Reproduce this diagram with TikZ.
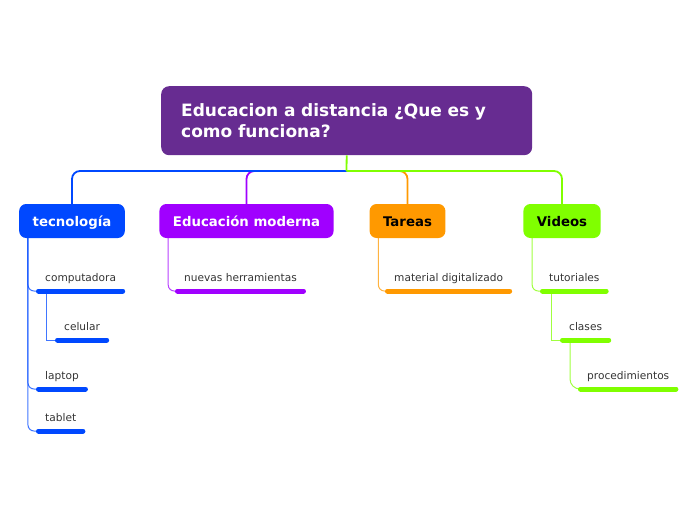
\documentclass[tikz,border=0pt]{standalone}
\usepackage{fontspec}
\setmainfont{DejaVu Sans}
\usetikzlibrary{positioning}
\definecolor{rootpurple}{RGB}{103,44,145}
\definecolor{topicblue}{RGB}{0,72,255}
\definecolor{topicviolet}{RGB}{160,0,255}
\definecolor{topicorange}{RGB}{255,153,0}
\definecolor{topicgreen}{RGB}{128,255,0}
\tikzset{topic/.style={rounded corners=7pt,minimum height=34pt,inner xsep=13.5pt,text height=11.5pt,text depth=.5pt,font=\fontsize{13.3}{15}\selectfont\bfseries},
  sub/.style={anchor=south west,inner xsep=6.5pt,inner ysep=0pt,text height=8pt,text depth=9pt,font=\fontsize{10.6}{12}\selectfont,text=black!80},
  bar/.style={line width=5pt,line cap=round},
  branch/.style={line width=1.8pt,rounded corners=8pt},
  twig/.style={line width=1pt,opacity=.75}
}

\begin{document}
\begin{tikzpicture}[x=1pt,y=-1pt]
  \useasboundingbox (0,0) rectangle (696,520);

  % Central topic
  \node[fill=rootpurple,text=white,rounded corners=8pt,anchor=north west,text width=331pt,inner xsep=20pt,minimum height=69pt,align=left,font=\fontsize{17}{21}\selectfont\bfseries] (root) at (161,86) {Educacion a distancia ¿Que es y\\como funciona?};
  \coordinate (hub) at (346.5,171);

  % Main topics
  \node[topic,fill=topicblue,text=white] (tec) at (72,221) {tecnología};
  \node[topic,fill=topicviolet,text=white] (edu) at (246.5,221) {Educación moderna};
  \node[topic,fill=topicorange,text=black] (tar) at (407.5,221) {Tareas};
  \node[topic,fill=topicgreen,text=black] (vid) at (562,221) {Videos};

  % Subtopics
  \node[sub] (comp) at (38.5,291) {computadora};
  \node[sub] (cel) at (57.5,340) {celular};
  \node[sub] (lap) at (38.5,389) {laptop};
  \node[sub] (tab) at (38.5,431) {tablet};
  \node[sub] (herr) at (177.5,291) {nuevas herramientas};
  \node[sub] (mat) at (387.5,291) {material digitalizado};
  \node[sub] (tut) at (542.5,291) {tutoriales};
  \node[sub] (cla) at (562.5,340) {clases};
  \node[sub] (proc) at (580.5,389) {procedimientos};

  % Root to main topics
  \draw[branch,draw=topicviolet] (hub) -| (edu.north);
  \draw[branch,draw=topicorange] (hub) -| (tar.north);
  \draw[branch,draw=topicblue] (hub) -| (tec.north);
  \draw[branch,draw=topicgreen] (hub) -| (vid.north);
  \draw[line width=1.8pt,draw=topicgreen] (root.south) -- (hub);

  % Main topics to subtopics
  \draw[twig,draw=topicblue,rounded corners=6pt] ([xshift=9pt]tec.south west) |- (comp.south west);
  \draw[twig,draw=topicblue,rounded corners=6pt] ([xshift=9pt]tec.south west) |- (lap.south west);
  \draw[twig,draw=topicblue,rounded corners=6pt] ([xshift=9pt]tec.south west) |- (tab.south west);
  \draw[twig,draw=topicblue] ([xshift=7.5pt]comp.south west) |- (cel.south west);
  \draw[twig,draw=topicviolet,rounded corners=6pt] ([xshift=9pt]edu.south west) |- (herr.south west);
  \draw[twig,draw=topicorange,rounded corners=6pt] ([xshift=9pt]tar.south west) |- (mat.south west);
  \draw[twig,draw=topicgreen,rounded corners=6pt] ([xshift=9pt]vid.south west) |- (tut.south west);
  \draw[twig,draw=topicgreen] ([xshift=8.5pt]tut.south west) |- (cla.south west);
  \draw[twig,draw=topicgreen,rounded corners=10pt] ([xshift=7.5pt]cla.south west) |- (proc.south west);

  % Bars under subtopics
  \foreach \n/\c in {comp/topicblue,cel/topicblue,lap/topicblue,tab/topicblue,herr/topicviolet,mat/topicorange,tut/topicgreen,cla/topicgreen,proc/topicgreen}
    \draw[bar,draw=\c] (\n.south west) -- (\n.south east);

\end{tikzpicture}
\end{document}
